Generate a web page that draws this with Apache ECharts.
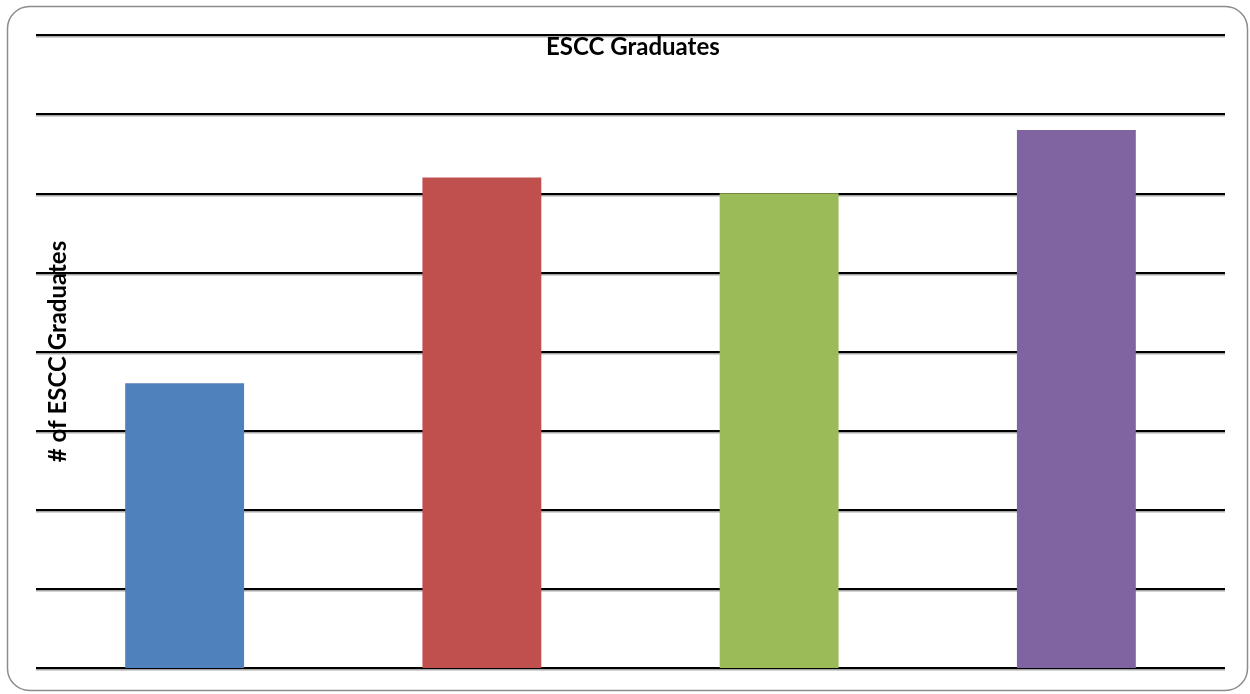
<!DOCTYPE html>
<html>
<head>
<meta charset="utf-8">
<script src="https://cdn.jsdelivr.net/npm/echarts@6/dist/echarts.min.js"></script>
<style>
html,body{margin:0;padding:0;background:#fff;}
#chart{width:1250px;height:694px;}
</style>
</head>
<body>
<div id="chart"></div>
<script>
var categories = ['Group 1', 'Group 2', 'Group 3', 'Group 4'];
var graduates = [3.6, 6.2, 6.0, 6.8];
var barColors = ['#4F81BD', '#C0504D', '#9BBB59', '#8064A2'];

var chart = echarts.init(document.getElementById('chart'));
chart.setOption({
  animation: false,
  backgroundColor: '#fff',
  graphic: [{
    type: 'rect',
    shape: {x: 7.5, y: 6.5, width: 1240, height: 684, r: 22},
    style: {fill: 'none', stroke: '#8c8c8c', lineWidth: 1.5},
    z: -10
  }],
  title: {
    text: 'ESCC Graduates',
    left: 546,
    top: 35,
    padding: 0,
    textStyle: {fontFamily: 'Lato, Open Sans, sans-serif', fontSize: 24, fontWeight: 'bold', color: '#000'}
  },
  grid: {left: 36, right: 25, top: 35, bottom: 26, containLabel: false},
  xAxis: {
    type: 'category',
    data: categories,
    axisLine: {show: false},
    axisTick: {show: false},
    axisLabel: {show: false}
  },
  yAxis: {
    type: 'value',
    min: 0,
    max: 8,
    interval: 1,
    name: '# of ESCC Graduates',
    nameLocation: 'middle',
    nameGap: -34,
    nameTextStyle: {fontFamily: 'Lato, Open Sans, sans-serif', fontSize: 24, fontWeight: 'bold', color: '#000'},
    axisLine: {show: false},
    axisTick: {show: false},
    axisLabel: {show: false},
    splitLine: {show: true, lineStyle: {color: '#000', width: 2, shadowColor: 'rgba(0,0,0,0.35)', shadowOffsetY: 1.5, shadowBlur: 0}}
  },
  series: [{
    type: 'bar',
    data: graduates.map(function (v, i) { return {value: v, itemStyle: {color: barColors[i]}}; }),
    barWidth: '40%'
  }]
});
</script>
</body>
</html>
